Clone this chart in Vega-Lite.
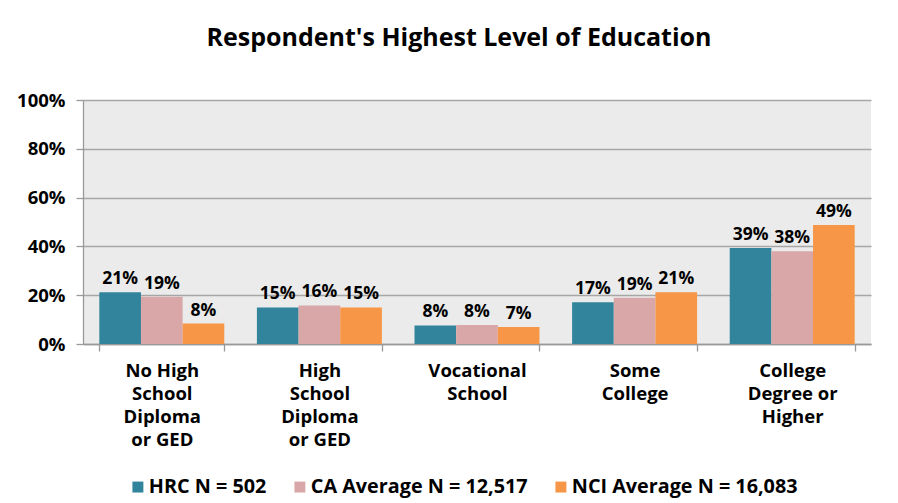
{
  "$schema": "https://vega.github.io/schema/vega-lite/v6.json",
  "width": 788,
  "height": 244,
  "padding": {"left": 16, "top": 26, "right": 10, "bottom": 5},
  "background": "white",
  "title": {"text": "Respondent's Highest Level of Education", "font": "Open Sans", "fontSize": 25, "fontWeight": "bold", "color": "#000000", "offset": 40, "anchor": "middle", "frame": "group", "dx": -18},
  "config": {
    "view": {"fill": "#ebebeb", "stroke": null},
    "font": "Open Sans"
  },
  "data": {"values": [
    {"cat": "No High|School|Diploma|or GED", "series": "HRC N = 502", "v": 0.212},
    {"cat": "No High|School|Diploma|or GED", "series": "CA Average N = 12,517", "v": 0.194},
    {"cat": "No High|School|Diploma|or GED", "series": "NCI Average N = 16,083", "v": 0.084},
    {"cat": "High|School|Diploma|or GED", "series": "HRC N = 502", "v": 0.150},
    {"cat": "High|School|Diploma|or GED", "series": "CA Average N = 12,517", "v": 0.158},
    {"cat": "High|School|Diploma|or GED", "series": "NCI Average N = 16,083", "v": 0.150},
    {"cat": "Vocational|School", "series": "HRC N = 502", "v": 0.076},
    {"cat": "Vocational|School", "series": "CA Average N = 12,517", "v": 0.078},
    {"cat": "Vocational|School", "series": "NCI Average N = 16,083", "v": 0.070},
    {"cat": "Some|College", "series": "HRC N = 502", "v": 0.171},
    {"cat": "Some|College", "series": "CA Average N = 12,517", "v": 0.190},
    {"cat": "Some|College", "series": "NCI Average N = 16,083", "v": 0.212},
    {"cat": "College|Degree or|Higher", "series": "HRC N = 502", "v": 0.393},
    {"cat": "College|Degree or|Higher", "series": "CA Average N = 12,517", "v": 0.380},
    {"cat": "College|Degree or|Higher", "series": "NCI Average N = 16,083", "v": 0.488}
  ]},
  "encoding": {
    "x": {"field": "cat", "type": "nominal", "sort": null,
      "scale": {"paddingInner": 0.207, "paddingOuter": 0.1035},
      "axis": {"title": null, "labelAngle": 0, "labelExpr": "split(datum.label, '|')", "labelFont": "Open Sans", "labelFontSize": 18.5, "labelFontWeight": "bold", "labelColor": "#000000", "labelLineHeight": 23, "labelPadding": 10, "domainColor": "#999999", "domainWidth": 1.3, "tickColor": "#999999", "tickWidth": 1.3, "tickBand": "extent", "tickSize": 7, "grid": false}},
    "xOffset": {"field": "series", "type": "nominal", "sort": ["HRC N = 502", "CA Average N = 12,517", "NCI Average N = 16,083"], "scale": {"paddingInner": 0, "paddingOuter": 0}},
    "y": {"field": "v", "type": "quantitative",
      "scale": {"domain": [0, 1]},
      "axis": {"title": null, "format": ".0%", "values": [0, 0.2, 0.4, 0.6, 0.8, 1], "labelFont": "Open Sans", "labelFontSize": 18.5, "labelFontWeight": "bold", "labelColor": "#000000", "labelPadding": 11, "gridColor": "#a6a6a6", "gridWidth": 1.5, "domain": true, "domainColor": "#999999", "domainWidth": 1.3, "tickColor": "#999999", "tickWidth": 1.3, "tickSize": 7}}
  },
  "layer": [
    {
      "mark": {"type": "bar"},
      "encoding": {
        "color": {"field": "series", "type": "nominal", "sort": ["HRC N = 502", "CA Average N = 12,517", "NCI Average N = 16,083"],
          "scale": {"range": ["#31849b", "#d9a7a7", "#f79646"]},
          "legend": {"title": null, "orient": "none", "legendX": 45, "legendY": 377, "direction": "horizontal", "symbolType": "square", "symbolSize": 120, "symbolStrokeWidth": 0, "symbolOffset": 0, "labelOffset": 1, "labelFont": "Open Sans", "labelFontSize": 19.8, "labelFontWeight": "bold", "labelColor": "#000000", "columnPadding": 23, "labelLimit": 400}}
      }
    },
    {
      "mark": {"type": "text", "baseline": "bottom", "dy": -4, "font": "Open Sans", "fontSize": 17.5, "fontWeight": "bold", "color": "#000000"},
      "encoding": {
        "text": {"field": "v", "type": "quantitative", "format": ".0%"}
      }
    }
  ]
}
